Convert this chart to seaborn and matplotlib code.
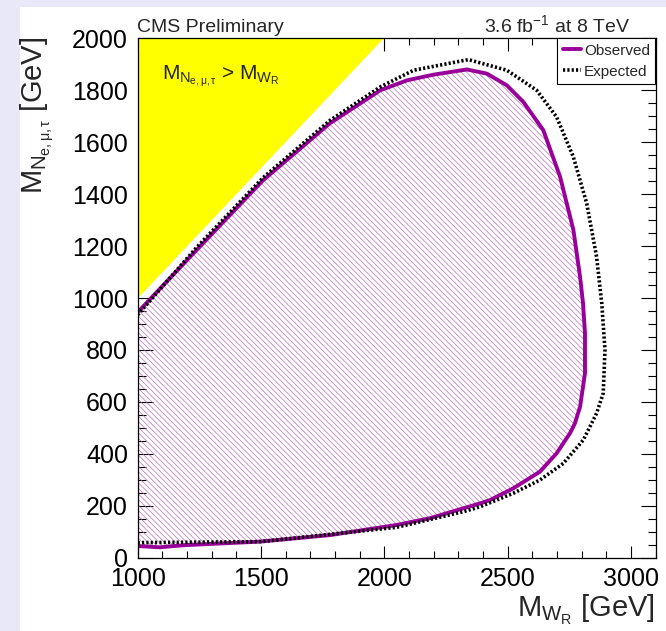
import matplotlib
matplotlib.use("Agg")
import matplotlib.pyplot as plt
from matplotlib.patches import Rectangle
from matplotlib.lines import Line2D
from matplotlib.ticker import MultipleLocator
import seaborn as sns
import pandas as pd

# ---------------- data ----------------
obs_mw = [1000, 1239, 1509, 1780, 1984, 2092, 2200, 2335, 2416, 2497, 2564, 2645,
          2713, 2767, 2794, 2806, 2814, 2814, 2794, 2773, 2753, 2699, 2631, 2523,
          2429, 2388, 2320, 2185, 2050, 1780, 1496, 1185, 1090, 1000]
obs_mn = [945, 1185, 1454, 1673, 1800, 1838, 1860, 1880, 1864, 1819, 1755, 1646,
          1467, 1262, 1082, 980, 864, 710, 581, 517, 479, 402, 331, 267,
          222, 209, 190, 152, 126, 87, 62, 48, 40, 45]

exp_mw = [1000, 1239, 1509, 1780, 1984, 2119, 2341, 2497, 2618, 2699, 2767, 2821,
          2861, 2882, 2895, 2888, 2861, 2807, 2726, 2631, 2523, 2388, 2320, 2050,
          1500, 1000]
exp_mn = [935, 1195, 1464, 1684, 1813, 1877, 1918, 1877, 1800, 1697, 1543, 1364,
          1159, 980, 800, 633, 556, 453, 363, 299, 248, 196, 177, 117,
          62, 58]

excl_mw = [1000, 1000, 2000]     # M_N > M_W region
excl_mn = [1000, 2000, 2000]

x_ticks = [1000, 1500, 2000, 2500, 3000]
y_ticks = [0, 200, 400, 600, 800, 1000, 1200, 1400, 1600, 1800, 2000]

series_labels = ["Observed", "Expected"]

# ---------------- style ----------------
sns.set_theme(style="ticks")
plt.rcParams["font.family"] = ["Liberation Sans", "DejaVu Sans"]
plt.rcParams["mathtext.fontset"] = "custom"
plt.rcParams["mathtext.rm"] = "Liberation Sans"
plt.rcParams["mathtext.it"] = "Liberation Sans"
plt.rcParams["mathtext.bf"] = "Liberation Sans:bold"
plt.rcParams["hatch.linewidth"] = 0.45

W, H = 666, 631
fig = plt.figure(figsize=(W / 100, H / 100), dpi=100)
fig.patch.set_facecolor("#E8E8F8")
fig.add_artist(Rectangle((20 / W, 0), 1 - 20 / W, 1 - 6.7 / H,
                         transform=fig.transFigure, facecolor="white",
                         edgecolor="none", zorder=-10))

left, right, top, bottom = 137.7, 655.5, 38.3, 557.7
ax = fig.add_axes([left / W, 1 - bottom / H, (right - left) / W, (bottom - top) / H])
ax.set_facecolor("white")

purple = "#990099"

# excluded (kinematically forbidden) triangle
ax.fill(excl_mw, excl_mn, color="#FFFF00", lw=0, zorder=1)

# hatched observed exclusion
ax.fill(obs_mw, obs_mn, facecolor="none", edgecolor="#B462B4", lw=0,
        hatch="\\" * 6, zorder=2)

obs_df = pd.DataFrame({"mw": obs_mw, "mn": obs_mn})
exp_df = pd.DataFrame({"mw": exp_mw, "mn": exp_mn})

sns.lineplot(data=obs_df, x="mw", y="mn", sort=False, estimator=None,
             color=purple, lw=2.8, ax=ax, zorder=4, legend=False)
sns.lineplot(data=exp_df, x="mw", y="mn", sort=False, estimator=None,
             color="black", lw=2.6, linestyle=(0, (0.6, 0.6)), ax=ax,
             zorder=5, legend=False)

ax.set_xlim(1000, 3100)
ax.set_ylim(0, 2000)
ax.set_xticks(x_ticks)
ax.set_xticklabels([str(t) for t in x_ticks])
ax.set_yticks(y_ticks)
ax.set_yticklabels([str(t) for t in y_ticks])
ax.xaxis.set_minor_locator(MultipleLocator(100))
ax.yaxis.set_minor_locator(MultipleLocator(50))
ax.set_xlabel("")
ax.set_ylabel("")

ax.tick_params(axis="both", which="both", direction="in", top=True, right=True,
               colors="black", width=0.8)
ax.tick_params(axis="x", which="major", length=9, labelsize=18, pad=6.5)
ax.tick_params(axis="x", which="minor", length=4.8)
ax.tick_params(axis="y", which="major", length=11, labelsize=18, pad=7)
ax.tick_params(axis="y", which="minor", length=5.8)
for s in ax.spines.values():
    s.set_visible(True)
    s.set_color("black")
    s.set_linewidth(0.9)
    s.set_zorder(6)

# legend
handles = [Line2D([], [], color=purple, lw=2.8),
           Line2D([], [], color="black", lw=2.6, linestyle=(0, (0.6, 0.6)))]
leg = ax.legend(handles, series_labels, loc="upper right", bbox_to_anchor=(1, 1),
                borderaxespad=0, frameon=True, fancybox=False, edgecolor="black",
                framealpha=1, fontsize=11, handlelength=1.2, handletextpad=0.2,
                borderpad=0.35, labelspacing=0.45)
leg.get_frame().set_linewidth(0.8)
leg.set_zorder(7)

# texts
ax.text(1100, 1840, r"$M_{N_{e,\mu,\tau}}$ > $M_{W_R}$", fontsize=15,
        va="baseline", ha="left", zorder=8)
fig.text(137 / W, 1 - 32 / H, "CMS Preliminary", fontsize=14, va="baseline", ha="left")
fig.text(630 / W, 1 - 32 / H, r"3.6 fb$^{-1}$ at 8 TeV", fontsize=14,
         va="baseline", ha="right")
fig.text(655 / W, 1 - 593 / H, r"$M_{W_R}$ [GeV]", fontsize=21, ha="right", va="top")
fig.text(37 / W, 1 - 37 / H, r"$M_{N_{e,\mu,\tau}}$ [GeV]", fontsize=21,
         rotation=90, ha="center", va="top")

fig.savefig("out.png", dpi=100, facecolor=fig.get_facecolor())
